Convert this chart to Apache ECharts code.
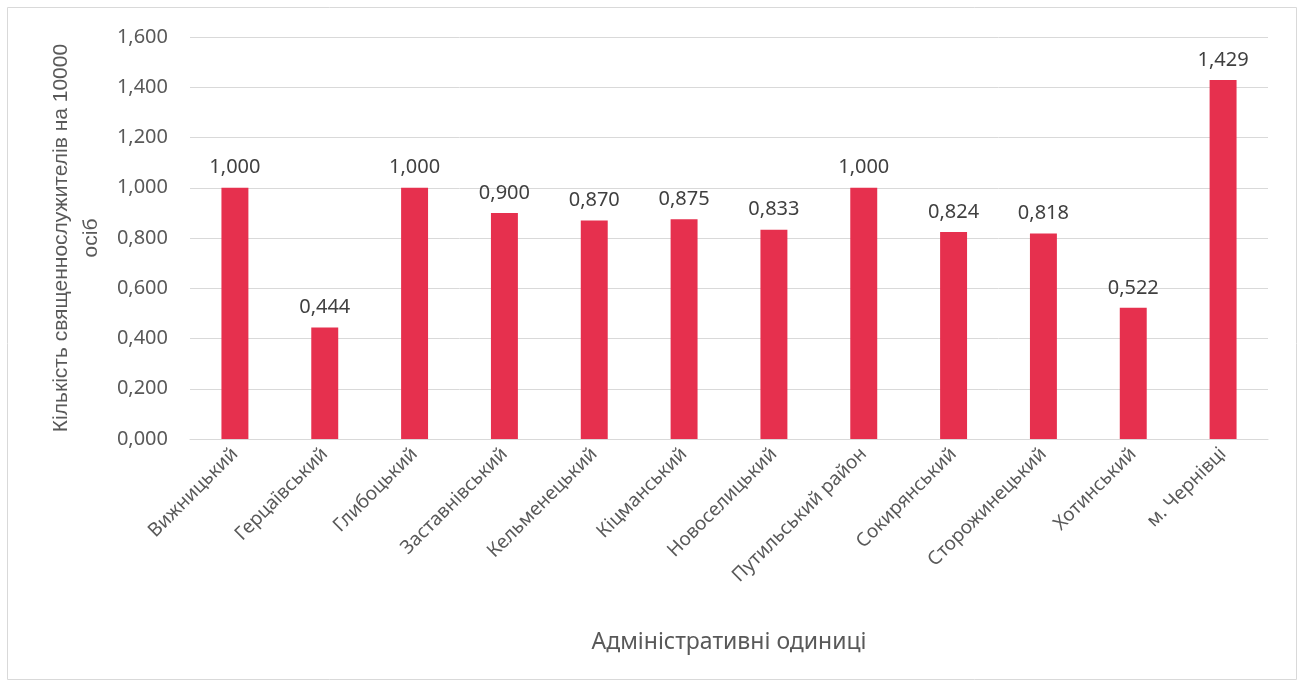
<!DOCTYPE html>
<html><head><meta charset="utf-8">
<script src="https://cdn.jsdelivr.net/npm/echarts@6/dist/echarts.min.js"></script>
<style>html,body{margin:0;padding:0;background:#fff}#c{width:1304px;height:686px}</style>
</head><body><div id="c"></div>
<script>
const categories = ['Вижницький','Герцаївський','Глибоцький','Заставнівський','Кельменецький','Кіцманський','Новоселицький','Путильський район','Сокирянський','Сторожинецький','Хотинський','м. Чернівці'];
const values = [1.000,0.444,1.000,0.900,0.870,0.875,0.833,1.000,0.824,0.818,0.522,1.429];
const yTitle = 'Кількість священнослужителів на 10000\nосіб';
const xTitle = 'Адміністративні одиниці';
const fmt = v => Number(v).toFixed(3).replace('.', ',');
const FONT = 'Noto Sans';
const chart = echarts.init(document.getElementById('c'));
chart.setOption({
  animation:false,
  textStyle:{fontFamily:FONT},
  graphic:[{type:'rect',shape:{x:7.5,y:7.5,width:1289,height:672},style:{fill:'none',stroke:'#d9d9d9',lineWidth:1}}],
  grid:{left:190,right:36,top:37,bottom:247},
  xAxis:{type:'category',data:categories,
    axisLine:{lineStyle:{color:'#d9d9d9',width:1}},axisTick:{show:false},
    axisLabel:{rotate:45,color:'#595959',fontSize:19,fontFamily:FONT,margin:12,interval:0},
    name:xTitle,nameLocation:'middle',nameGap:203,nameTextStyle:{color:'#595959',fontSize:23,fontFamily:FONT,verticalAlign:'middle'}},
  yAxis:{type:'value',min:0,max:1.6,interval:0.2,
    axisLine:{show:false},axisTick:{show:false},
    splitLine:{lineStyle:{color:'#d9d9d9',width:1}},
    axisLabel:{formatter:fmt,color:'#595959',fontSize:20,fontFamily:FONT,margin:22},
    name:yTitle,nameLocation:'middle',nameGap:114,nameRotate:90,
    nameTextStyle:{color:'#595959',fontSize:21,fontFamily:'Liberation Sans',lineHeight:30,align:'center',verticalAlign:'middle'}},
  series:[{type:'bar',data:values,barWidth:'30%',itemStyle:{color:'#E6304E'},
    label:{show:true,position:'top',distance:10,formatter:p=>fmt(p.value),color:'#404040',fontSize:20,fontFamily:FONT}}]
});
</script></body></html>
